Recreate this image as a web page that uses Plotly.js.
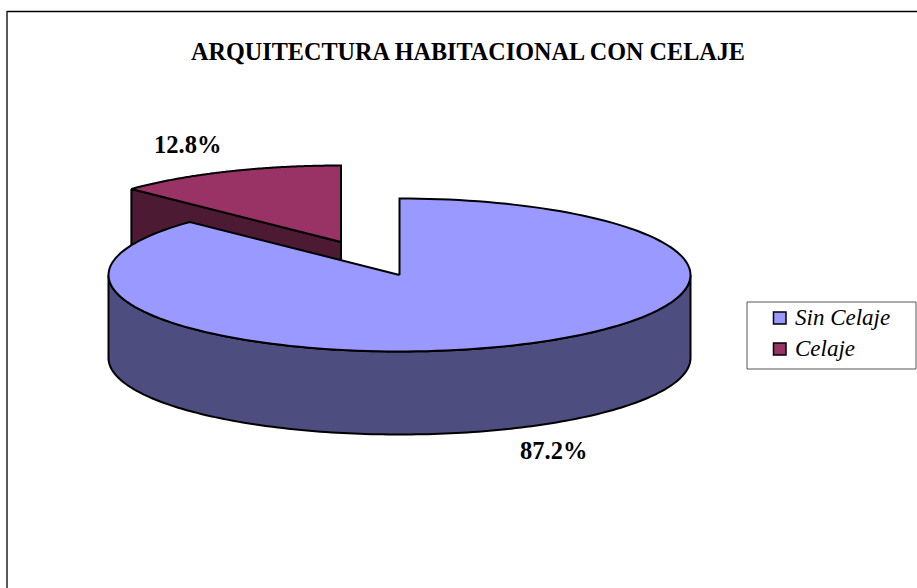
<!DOCTYPE html>
<html>
<head>
<meta charset="utf-8">
<script src="https://cdn.plot.ly/plotly-3.0.1.min.js"></script>
<style>html,body{margin:0;padding:0;background:#fff;overflow:hidden}#chart{width:917px;height:588px}</style>
</head>
<body>
<div id="chart"></div>
<script>
const titleText = 'ARQUITECTURA HABITACIONAL CON CELAJE';
const categories = ['Sin Celaje', 'Celaje'];
const values = [87.2, 12.8];
const topColors = ['#9999FF', '#993366'];
const wallColors = ['#4D4D80', '#4D1A33'];
const FONT = '"Liberation Serif", "Times New Roman", serif';

// pie geometry (in the pixel-like units of the hidden axes)
const RX = 291, RY = 76.5, DEPTH = 83, STEPS = 160;
const centerMain = [399.5, 275];
const centerSlice = [341, 242];
const shareToAngle = v => v / 100 * 2 * Math.PI;

function arc(c, from, to, dy) {
  const xs = [], ys = [];
  for (let i = 0; i <= STEPS; i++) {
    const t = from + (to - from) * i / STEPS;
    xs.push(c[0] + RX * Math.sin(t));
    ys.push(c[1] - RY * Math.cos(t) + (dy || 0));
  }
  return [xs, ys];
}

const mainEnd = shareToAngle(values[0]);
const [ax, ay] = arc(centerMain, 0, mainEnd);
const mainTopX = [centerMain[0], ...ax, centerMain[0]];
const mainTopY = [centerMain[1], ...ay, centerMain[1]];

const [wt, wty] = arc(centerMain, Math.PI / 2, 3 * Math.PI / 2);
const [wb, wby] = arc(centerMain, 3 * Math.PI / 2, Math.PI / 2, DEPTH);
const mainWallX = [...wt, ...wb, wt[0]];
const mainWallY = [...wty, ...wby, wty[0]];

const [sx, sy] = arc(centerSlice, mainEnd, 2 * Math.PI);
const sliceTopX = [centerSlice[0], ...sx, centerSlice[0]];
const sliceTopY = [centerSlice[1], ...sy, centerSlice[1]];
const sliceWallX = [sx[0], centerSlice[0], centerSlice[0], sx[0], sx[0]];
const sliceWallY = [sy[0], centerSlice[1], centerSlice[1] + DEPTH, sy[0] + DEPTH, sy[0]];

function poly(x, y, fill, name) {
  return {
    type: 'scatter', mode: 'lines', x, y, fill: 'toself', fillcolor: fill,
    line: {color: '#000', width: 2, simplify: false},
    hoverinfo: 'skip', name: name || '', showlegend: false
  };
}

const traces = [
  poly(sliceWallX, sliceWallY, wallColors[1]),
  poly(sliceTopX, sliceTopY, topColors[1], categories[1]),
  poly(mainWallX, mainWallY, wallColors[0]),
  poly(mainTopX, mainTopY, topColors[0], categories[0])
];

// legend box, drawn so that swatch and text sit where the reference has them
const legendRows = [318, 349];
const legendShapes = legendRows.map((y, i) => ({
  type: 'rect', xref: 'x', yref: 'y', x0: 773.5, x1: 786, y0: y - 6, y1: y + 6,
  fillcolor: topColors[i], line: {color: '#000', width: 1.5}
}));
const legendLabels = legendRows.map((y, i) => ({
  xref: 'x', yref: 'y', x: 793, y: y - 1, xanchor: 'left', yanchor: 'middle',
  text: categories[i], showarrow: false,
  font: {family: FONT, size: 23, color: '#000', style: 'italic'}
}));

const layout = {
  width: 917, height: 588,
  margin: {l: 0, r: 0, t: 0, b: 0, pad: 0},
  paper_bgcolor: '#fff', plot_bgcolor: '#fff',
  showlegend: false,
  xaxis: {range: [0, 917], visible: false, fixedrange: true},
  yaxis: {range: [588, 0], visible: false, fixedrange: true},
  title: {
    text: titleText, x: 468 / 917, xanchor: 'center', y: 1 - 52 / 588, yanchor: 'middle',
    font: {family: FONT, size: 24.2, color: '#000', weight: 700}
  },
  annotations: [
    {xref: 'x', yref: 'y', x: 187, y: 144, text: values[1].toFixed(1) + '%', showarrow: false,
     font: {family: FONT, size: 24.5, color: '#000', weight: 700}},
    {xref: 'x', yref: 'y', x: 553.5, y: 450, text: values[0].toFixed(1) + '%', showarrow: false,
     font: {family: FONT, size: 24.5, color: '#000', weight: 700}},
    ...legendLabels
  ],
  shapes: [
    {type: 'line', xref: 'x', yref: 'y', x0: 7, x1: 917, y0: 11.5, y1: 11.5, line: {color: '#000', width: 1.5}},
    {type: 'line', xref: 'x', yref: 'y', x0: 7, x1: 7, y0: 11, y1: 588, line: {color: '#222', width: 1.5}},
    {type: 'rect', xref: 'x', yref: 'y', x0: 747, x1: 916, y0: 302, y1: 369, fillcolor: '#fff', line: {color: '#555', width: 1}},
    ...legendShapes
  ]
};

Plotly.newPlot('chart', traces, layout, {displayModeBar: false, responsive: false});
</script>
</body>
</html>
